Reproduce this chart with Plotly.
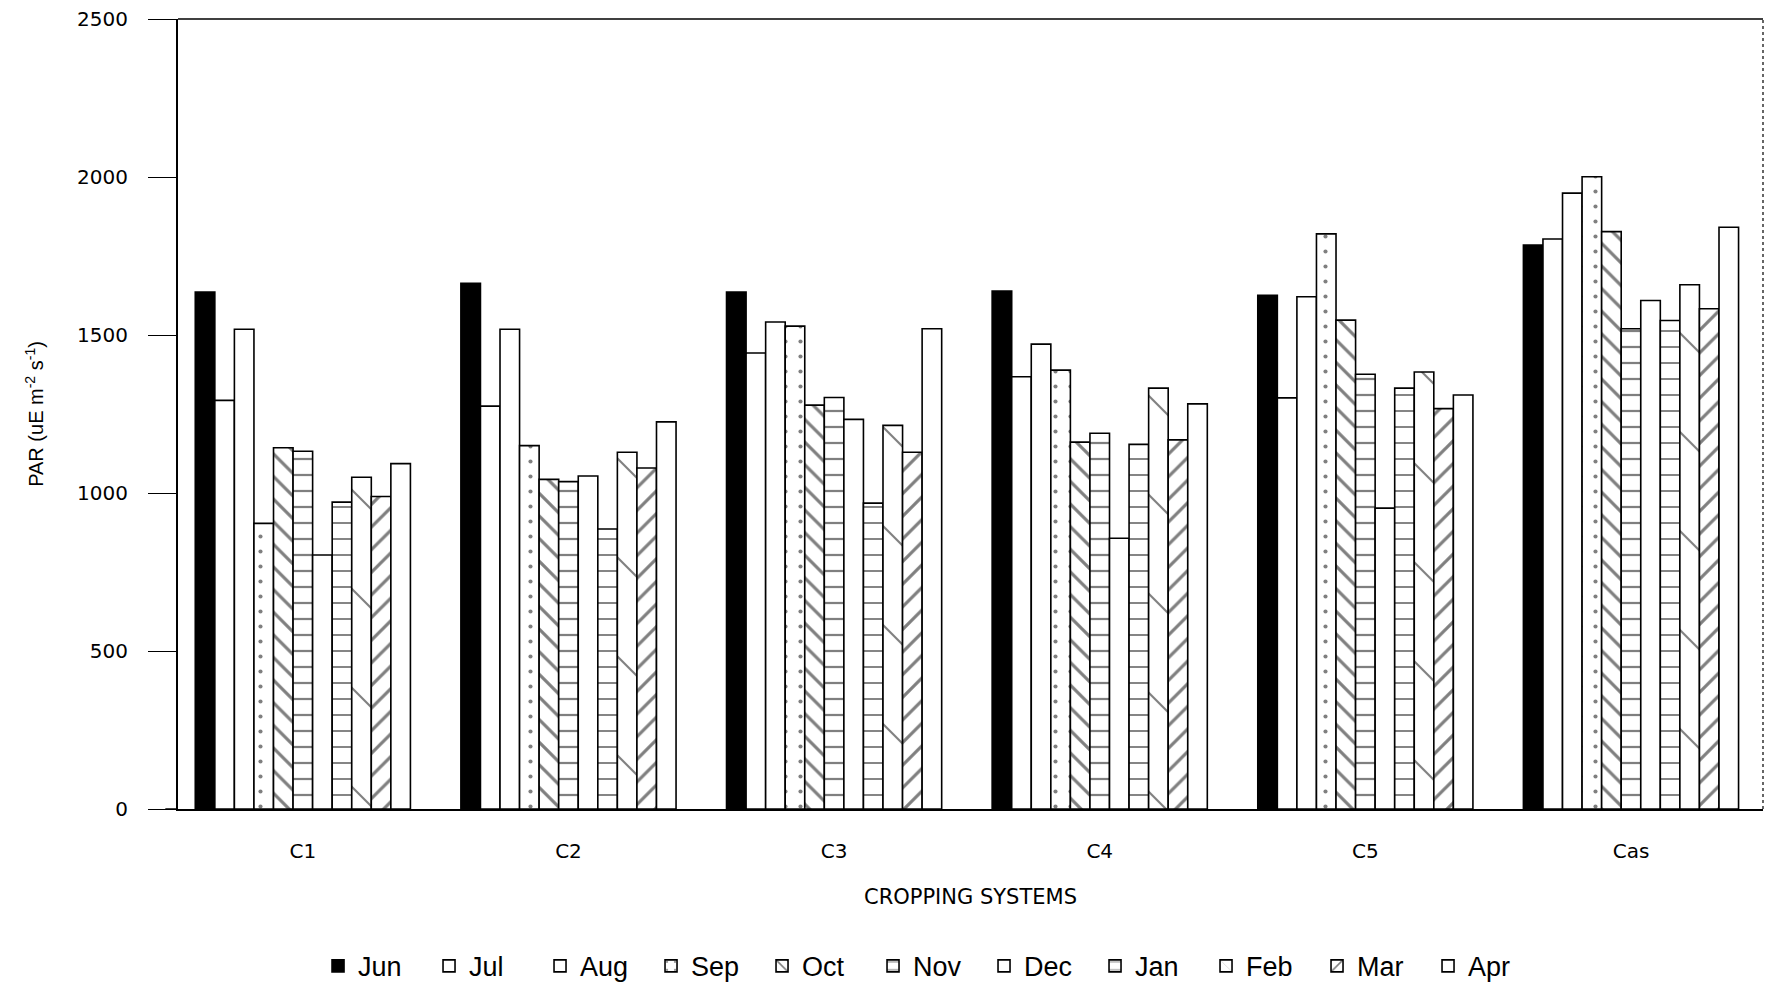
import plotly.graph_objects as go

# Cropping systems on the category axis
systems = ["C1", "C2", "C3", "C4", "C5", "Cas"]

# Monthly PAR readings (uE m-2 s-1) for each cropping system
jun = [1636, 1664, 1636, 1639, 1626, 1785]
jul = [1293, 1275, 1443, 1368, 1301, 1804]
aug = [1518, 1518, 1541, 1471, 1621, 1949]
sep = [904, 1150, 1528, 1389, 1820, 2001]
oct_ = [1143, 1043, 1278, 1161, 1547, 1827]
nov = [1132, 1036, 1302, 1189, 1376, 1520]
dec = [804, 1054, 1233, 857, 952, 1609]
jan = [971, 886, 968, 1154, 1332, 1546]
feb = [1050, 1129, 1214, 1332, 1383, 1659]
mar = [989, 1079, 1129, 1168, 1267, 1583]
apr = [1093, 1225, 1520, 1282, 1310, 1841]

y_ticks = [0, 500, 1000, 1500, 2000, 2500]

# (name, values, fill colour, hatch shape, hatch size, hatch solidity)
series = [
    ("Jun", jun, "black", "", 8, 0.3),
    ("Jul", jul, "white", "", 8, 0.3),
    ("Aug", aug, "white", "", 8, 0.3),
    ("Sep", sep, "white", ".", 15, 0.06),
    ("Oct", oct_, "white", "\\", 16, 0.2),
    ("Nov", nov, "white", "-", 16, 0.14),
    ("Dec", dec, "white", "", 8, 0.3),
    ("Jan", jan, "white", "-", 16, 0.12),
    ("Feb", feb, "white", "\\", 70, 0.03),
    ("Mar", mar, "white", "/", 16, 0.2),
    ("Apr", apr, "white", "", 8, 0.3),
]

fig = go.Figure()
for name, vals, fill, shape, size, solidity in series:
    fig.add_trace(go.Bar(
        name=name,
        x=systems,
        y=vals,
        marker=dict(
            color=fill,
            line=dict(color="black", width=1.6),
            pattern=dict(shape=shape, fgcolor="black", bgcolor=fill,
                         size=size, solidity=solidity),
        ),
    ))

axis_font = dict(family="DejaVu Sans", size=20, color="black")

fig.update_layout(
    width=1772,
    height=986,
    barmode="group",
    bargap=0.19,
    bargroupgap=0,
    plot_bgcolor="white",
    paper_bgcolor="white",
    margin=dict(l=178, r=9, t=19, b=177, autoexpand=False),
    showlegend=True,
    legend=dict(
        orientation="h",
        xref="container", yref="container",
        x=0.524, xanchor="center",
        y=0.02, yanchor="middle",
        font=dict(family="Liberation Sans", size=27, color="black"),
        entrywidth=66,
        entrywidthmode="pixels",
        traceorder="normal",
        itemclick=False,
    ),
    xaxis=dict(
        range=[-0.47, 5.497],
        automargin=False,
        showline=True, linecolor="black", linewidth=2,
        ticks="", tickfont=axis_font,
        ticklabelstandoff=23,
        title=dict(text="CROPPING SYSTEMS",
                   font=dict(family="DejaVu Sans", size=21, color="black"),
                   standoff=27),
        showgrid=False, zeroline=False,
    ),
    yaxis=dict(
        range=[0, 2500],
        automargin=False,
        tickvals=y_ticks,
        showline=True, linecolor="black", linewidth=2,
        ticks="outside", ticklen=28, tickwidth=1, tickcolor="black",
        ticklabelstandoff=16,
        tickfont=axis_font,
        title=dict(text="PAR (uE m<sup>-2</sup> s<sup>-1</sup>)",
                   font=dict(family="Liberation Sans Narrow, Liberation Sans", size=20, color="black"),
                   standoff=28),
        showgrid=False, zeroline=False,
    ),
    shapes=[
        # top frame edge
        dict(type="line", xref="paper", yref="paper", x0=0, x1=1, y0=1, y1=1,
             line=dict(color="black", width=1.5)),
        # right frame edge, dotted
        dict(type="line", xref="paper", yref="paper", x0=1, x1=1, y0=0, y1=1,
             line=dict(color="black", width=1.2, dash="dot")),
        # baseline overhang left of the value axis
        dict(type="line", xref="paper", yref="paper", x0=-0.008, x1=0, y0=0, y1=0,
             line=dict(color="black", width=1.5)),
    ],
)

fig.write_html("out.html")
